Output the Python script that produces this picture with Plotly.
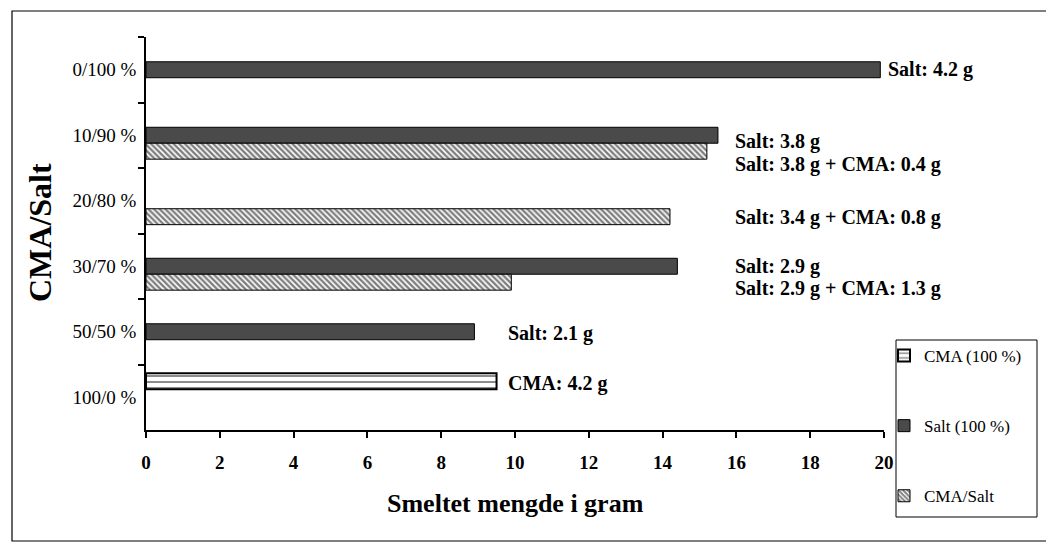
import plotly.graph_objects as go

# Mixture ratios (CMA / salt) shown on the category axis, top to bottom
categories = ["0/100 %", "10/90 %", "20/80 %", "30/70 %", "50/50 %", "100/0 %"]

# Melted amount in grams for each de-icer type (None = not tested)
cma_100 = [None, None, None, None, None, 9.5]
salt_100 = [19.9, 15.5, None, 14.4, 8.9, None]
cma_salt = [None, 15.2, 14.2, 9.9, None, None]

series_names = ["CMA (100 %)", "Salt (100 %)", "CMA/Salt"]

# Dose annotations written beside the bars
dose_categories = ["0/100 %", "10/90 %", "10/90 %", "20/80 %", "30/70 %", "30/70 %", "50/50 %", "100/0 %"]
dose_texts = [
    "Salt: 4.2 g",
    "Salt: 3.8 g",
    "Salt: 3.8 g + CMA: 0.4 g",
    "Salt: 3.4 g + CMA: 0.8 g",
    "Salt: 2.9 g",
    "Salt: 2.9 g + CMA: 1.3 g",
    "Salt: 2.1 g",
    "CMA: 4.2 g",
]

x_title = "Smeltet mengde i gram"
y_title = "CMA/Salt"

# ---- layout geometry (pixels) ----
W, H = 1046, 544
PL, PR, PT, PB = 146, 884, 37, 430
X_MAX = 20
SERIF = "Liberation Serif"


def px_x(p):
    return (p - PL) / (PR - PL)


def px_y(p):
    return (PB - p) / (PB - PT)


# Placement of the dose labels: start x (data units) and vertical pixel offset
dose_x = [20.05, 15.9, 15.9, 15.9, 15.9, 15.9, 9.76, 9.76]
dose_dy = [0, 6, 29, 17, 0, 22, 2, -14]

fig = go.Figure()

fig.add_trace(go.Bar(
    name=series_names[0], y=categories, x=cma_100, orientation="h",
    legendgroup="a",
    marker=dict(color="white", line=dict(color="black", width=2),
                pattern=dict(shape="-", fgcolor="black", bgcolor="white",
                             size=6, solidity=0.3)),
))
fig.add_trace(go.Bar(
    name=series_names[1], y=categories, x=salt_100, orientation="h",
    legendgroup="b",
    marker=dict(color="#4a4a4a", line=dict(color="black", width=1)),
))
fig.add_trace(go.Bar(
    name=series_names[2], y=categories, x=cma_salt, orientation="h",
    legendgroup="c",
    marker=dict(color="white", line=dict(color="black", width=1),
                pattern=dict(shape="\\", fgcolor="black", bgcolor="white",
                             size=4, solidity=0.6)),
))

annotations = []
for cat, xv, dy, txt in zip(dose_categories, dose_x, dose_dy, dose_texts):
    # x is given in data units; expressed along the x domain so labels
    # just past the axis end still render
    annotations.append(dict(
        x=xv / X_MAX, y=cat, xref="x domain", yref="y", text=txt,
        showarrow=False, xanchor="left", yanchor="middle", yshift=-dy,
        font=dict(family=SERIF, size=20, color="black", weight="bold"),
    ))

# axis titles
annotations.append(dict(
    x=0.5, y=px_y(503), xref="paper", yref="paper", text=x_title,
    showarrow=False, xanchor="center", yanchor="middle",
    font=dict(family=SERIF, size=26, color="black", weight="bold"),
))
annotations.append(dict(
    x=px_x(40), y=px_y(233), xref="paper", yref="paper", text=y_title,
    showarrow=False, xanchor="center", yanchor="middle", textangle=-90,
    font=dict(family=SERIF, size=32, color="black", weight="bold"),
))

shapes = [
    # outer frame
    dict(type="rect", xref="paper", yref="paper",
         x0=px_x(12), x1=px_x(1052), y0=px_y(541), y1=px_y(11),
         line=dict(color="black", width=1.2), fillcolor="rgba(0,0,0,0)",
         layer="below"),
    # legend box
    dict(type="rect", xref="paper", yref="paper",
         x0=px_x(896), x1=px_x(1037), y0=px_y(517), y1=px_y(340),
         line=dict(color="black", width=1), fillcolor="white", layer="above"),
]

fig.update_layout(
    width=W, height=H,
    margin=dict(l=PL, r=W - PR, t=PT, b=H - PB, pad=0),
    paper_bgcolor="white", plot_bgcolor="white",
    barmode="group", bargap=0.27, bargroupgap=0,
    showlegend=True,
    legend=dict(
        x=px_x(884), xanchor="left", y=px_y(338), yanchor="top",
        bgcolor="rgba(0,0,0,0)", borderwidth=0,
        font=dict(family=SERIF, size=17, color="black"),
        traceorder="grouped", tracegroupgap=45, itemwidth=30,
    ),
    annotations=annotations,
    shapes=shapes,
    xaxis=dict(
        range=[0, X_MAX], tick0=0, dtick=2, showgrid=False, zeroline=False,
        showline=True, linecolor="black", linewidth=1.5,
        ticks="outside", ticklen=6, tickwidth=1.5, tickcolor="black",
        ticklabelstandoff=8,
        tickfont=dict(family=SERIF, size=19, color="black", weight="bold"),
    ),
    yaxis=dict(
        type="category", categoryorder="array", categoryarray=categories,
        autorange="reversed", showgrid=False, zeroline=False,
        showline=True, linecolor="black", linewidth=1.5,
        ticks="outside", tickson="boundaries", ticklen=6, tickwidth=1.5,
        tickcolor="black", ticklabelstandoff=4,
        tickfont=dict(family=SERIF, size=19, color="black"),
    ),
)

fig.write_html("out.html")
